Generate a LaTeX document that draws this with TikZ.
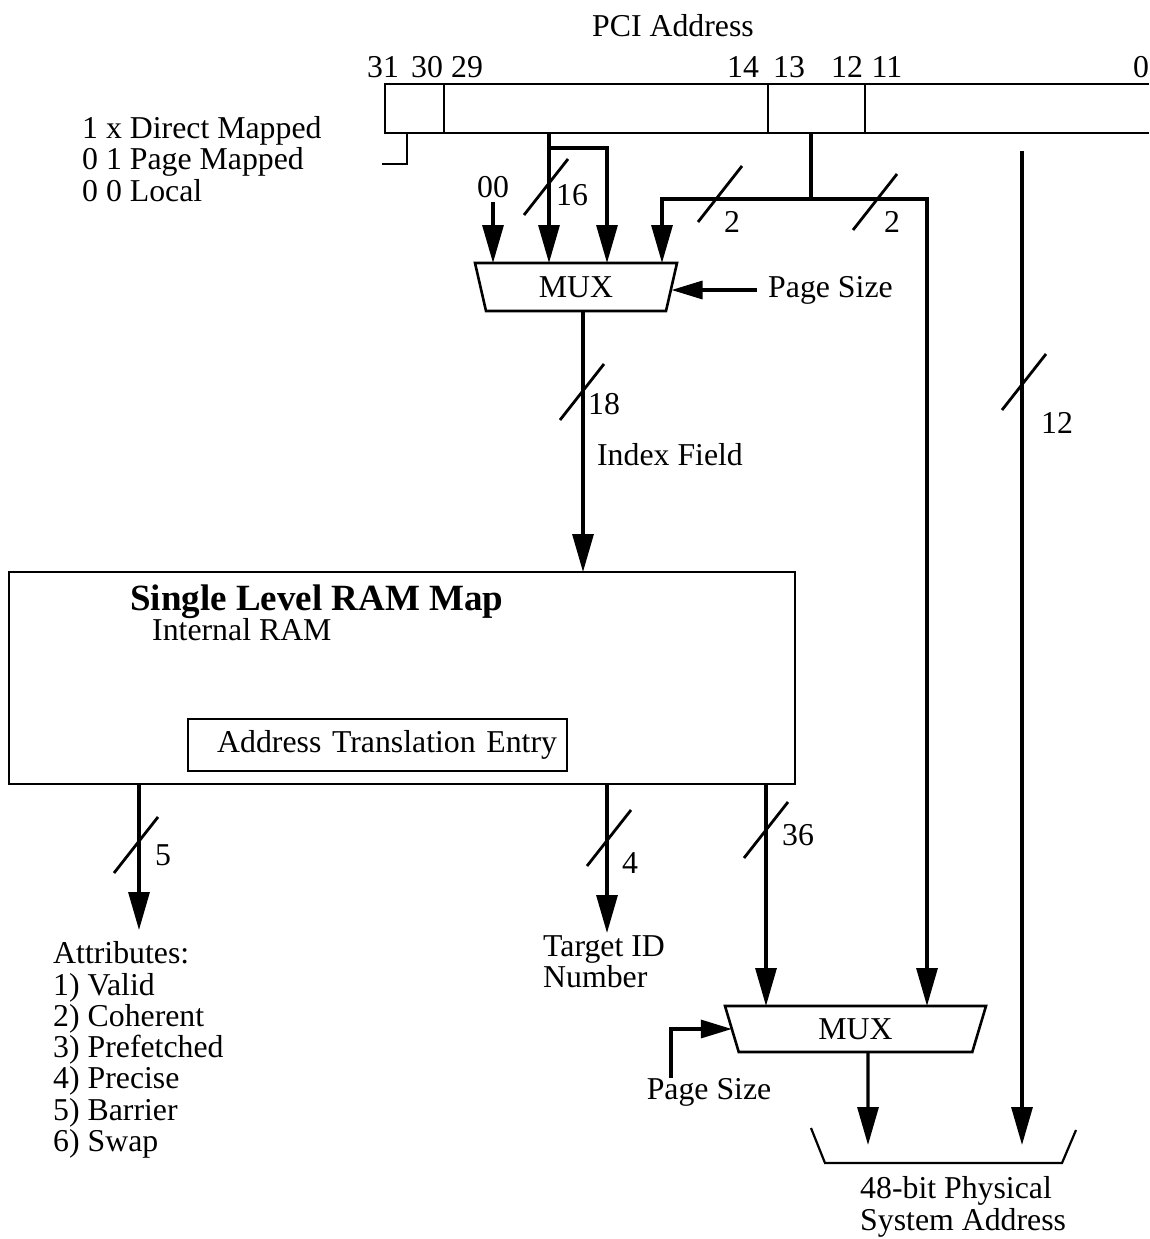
\documentclass[tikz,border=0pt]{standalone}
\usepackage{fontspec}
\setmainfont{Liberation Serif}
\usetikzlibrary{arrows.meta,positioning,shapes.geometric}
\newcommand{\txt}{\fontsize{31.8}{31.3}\selectfont}
\newcommand{\titletxt}{\fontsize{37}{40}\selectfont\bfseries}
\tikzset{
    wire/.style={line width=3.2pt},
    bus/.style={wire,-{Triangle[length=38pt,width=21pt]}},
    sel/.style={wire,-{Triangle[length=31pt,width=18pt]}},
    slash/.style={line width=2.8pt},
    field/.style={
        draw,line width=2.6pt,minimum height=49pt,
        inner sep=0pt,outer sep=0pt
    },
    mux/.style={
        draw,line width=2.6pt,trapezium,shape border rotate=180,
        trapezium stretches body,inner sep=0pt,outer sep=0pt,font=\txt
    },
    lbl/.style={inner sep=0pt,font=\txt,align=left}
}

\begin{document}
\begin{tikzpicture}[x=1pt,y=-1pt]
\useasboundingbox (0,0) rectangle (1149,1239);

% PCI address register
\node[lbl] (pci) at (673,26) {PCI Address};
\node[field,minimum width=59pt] (f31) at (414.5,108.5) {};
\node[field,minimum width=324pt] (f29) at (606,108.5) {};
\node[field,minimum width=97pt] (f13) at (816.5,108.5) {};
\node[field,draw=none,minimum width=284pt] (f11) at (1007,108.5) {};
\draw[line width=2.6pt] (f11.north west) -- (f11.north east)
    (f11.south west) -- (f11.south east);
\foreach \b/\x in {31/383,30/427,29/467,14/743,13/789,12/847,11/887,0/1141}
    \node[lbl] (bit\b) at (\x,67) {\b};

\node[lbl,anchor=west] (modes) at (82,159)
{1 x Direct Mapped\\0 1 Page Mapped\\0 0 Local};
\coordinate (t31) at (407,133);
\coordinate (modeend) at (382,164);
\draw[line width=2.4pt] (t31) |- (modeend);

% taps
\coordinate (t29) at (549,133);
\coordinate (br16) at (549,148);
\coordinate (br16b) at (607,148);
\coordinate (t13) at (811,133);
\coordinate (sp) at (811,199);
\coordinate (spL) at (662,199);
\coordinate (spR) at (927,199);
\coordinate (t11) at (1022,151);

% first mux
\node[mux,trapezium angle=62.5,minimum width=202pt,minimum height=48pt]
    (mux1) at (576,287) {MUX};
\node[lbl] (n00) at (493,187) {00};
\coordinate (t00) at (493,202);
\draw[bus] (t00) -- (t00 |- mux1.north);
\draw[bus] (t29) -- (t29 |- mux1.north);
\draw[bus] (br16) -- (br16b) -- (br16b |- mux1.north);
\draw[wire] (t13) -- (sp);
\draw[bus] (sp) -- (spL) -- (spL |- mux1.north);
\node[lbl,anchor=west] (ps1) at (768,290) {Page Size};
\draw[sel] ([xshift=-11pt]ps1.west) -- (mux1.east |- ps1.west);

% ram map
\node[draw,line width=2.6pt,minimum width=786pt,minimum height=212pt,
    inner sep=0pt,outer sep=0pt] (ram) at (402,678) {};
\node[lbl,anchor=west,font=\titletxt] (ramtitle) at (130,602)
{Single Level RAM Map};
\node[lbl,anchor=west] (ramsub) at (152,630) {Internal RAM};
\node[draw,line width=2.4pt,inner xsep=10pt,inner ysep=0pt,outer sep=0pt,
    text width=359pt,align=right,minimum height=52pt,font=\txt]
    (ate) at (377.5,745) {Address Translation Entry};

\draw[bus] ([xshift=7pt]mux1.south) coordinate (m1out) -- (m1out |- ram.north);
\node[lbl] (idx) at (670,455) {Index Field};

% second mux
\node[mux,trapezium angle=57,minimum width=261pt,minimum height=46pt]
    (mux2) at (855.5,1029) {MUX};
\draw[bus] (sp) -- (spR) -- (spR |- mux2.north);
\node[lbl] (ps2) at (709,1092) {Page Size};
\draw[sel] ([xshift=-38pt]ps2.north) |- (mux2.west);

% ram outputs
\coordinate (oAttr) at (139,784);
\coordinate (attrTip) at (139,930);
\coordinate (oTid) at (607,784);
\coordinate (tidTip) at (607,933);
\coordinate (o36) at (766,784);
\draw[bus] (oAttr) -- (attrTip);
\draw[bus] (oTid) -- (tidTip);
\draw[bus] (o36) -- (o36 |- mux2.north);
\node[lbl,anchor=west] (attr) at (53,1050)
{Attributes:\\1) Valid\\2) Coherent\\3) Prefetched\\4) Precise\\5) Barrier\\6) Swap};
\node[lbl,anchor=west] (tid) at (543,962) {Target ID\\Number};

% physical address
\coordinate (dstL) at (868,1145);
\coordinate (dstR) at (1022,1145);
\draw[bus] ([xshift=12.5pt]mux2.south) -- (dstL);
\draw[bus] (t11) -- (dstR);
\draw[line width=2.2pt] (811,1128) -- (825,1163) -- (1062,1163) -- (1076,1130);
\node[lbl,anchor=west] (dst) at (860,1207) {48-bit Physical\\System Address};

% bus widths
\foreach \x/\y in {546/187,720/194,875/202,582/392,1024/382,136/845,609/838,766/830}
    \draw[slash] (\x,\y) ++(-22,28) -- ++(44,-56);
\node[lbl] (w16) at (572,195) {16};
\node[lbl] (w2a) at (732,222) {2};
\node[lbl] (w2b) at (892,222) {2};
\node[lbl] (w18) at (604,404) {18};
\node[lbl] (w12) at (1057,423) {12};
\node[lbl] (w5) at (163,855) {5};
\node[lbl] (w4) at (630,863) {4};
\node[lbl] (w36) at (798,835) {36};

\end{tikzpicture}
\end{document}
